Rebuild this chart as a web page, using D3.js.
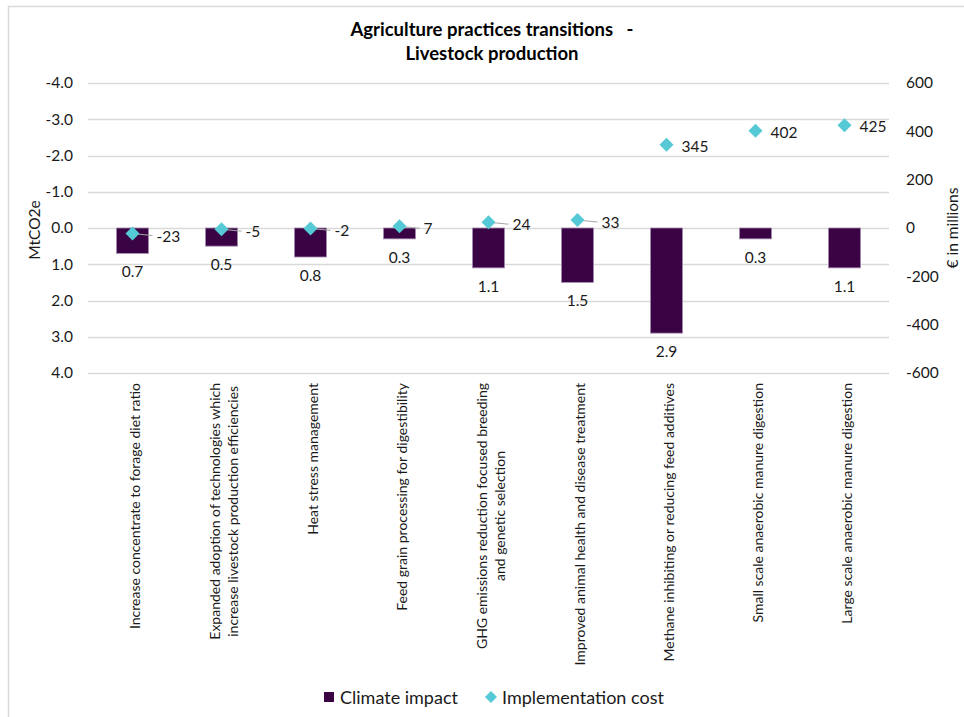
<!DOCTYPE html>
<html>
<head>
<meta charset="utf-8">
<script src="https://cdn.jsdelivr.net/npm/d3@7"></script>
<style>
  html, body { margin: 0; padding: 0; background: #fff; }
  svg { display: block; font-family: Lato, "Open Sans", sans-serif; }
</style>
</head>
<body>
<svg id="chart" width="964" height="717"></svg>
<script>
// ---- data ----
const categories = [
  ["Increase concentrate to forage diet ratio"],
  ["Expanded adoption of technologies which", "increase livestock production efficiencies"],
  ["Heat stress management"],
  ["Feed grain processing for digestibility"],
  ["GHG emissions reduction focused breeding", "and genetic selection"],
  ["Improved animal health and disease treatment"],
  ["Methane inhibiting or reducing feed additives"],
  ["Small scale anaerobic manure digestion"],
  ["Large scale anaerobic manure digestion"]
];
const climateImpact = [0.7, 0.5, 0.8, 0.3, 1.1, 1.5, 2.9, 0.3, 1.1];
const implementationCost = [-23, -5, -2, 7, 24, 33, 345, 402, 425];
const leftTicks = [-4, -3, -2, -1, 0, 1, 2, 3, 4];
const rightTicks = [600, 400, 200, 0, -200, -400, -600];
const titleLines = ["Agriculture practices transitions\u00a0\u00a0\u00a0-", "Livestock production"];
const seriesNames = ["Climate impact", "Implementation cost"];

// ---- layout ----
const svg = d3.select("#chart");
const plot = { left: 88, right: 889, top: 83, bottom: 373 };
const barColor = "#3a0444", diamondColor = "#56c9d6", gridColor = "#d9d9d9", textColor = "#1a1a1a";
const hy = s => s.replace(/\u2212/g, "-");
const f1 = v => hy(d3.format(".1f")(v));
const f0 = v => hy(d3.format("d")(v));

// chart frame
svg.append("rect").attr("x", 8.5).attr("y", 6.5).attr("width", 970).attr("height", 730)
  .attr("fill", "none").attr("stroke", "#d9d9d9").attr("stroke-width", 1.5);

const idx = categories.map((d, i) => i);
const x = d3.scaleBand().domain(idx).range([plot.left, plot.right]);
const yL = d3.scaleLinear().domain([-4, 4]).range([plot.top, plot.bottom]);
const yR = d3.scaleLinear().domain([600, -600]).range([plot.top, plot.bottom]);

// title
svg.append("g").selectAll("text").data(titleLines).join("text")
  .attr("x", 492).attr("y", (d, i) => 36 + i * 24)
  .attr("text-anchor", "middle").attr("font-weight", "bold").attr("font-size", 18.5)
  .attr("fill", "#000").text(d => d);

// gridlines
svg.append("g").selectAll("line").data(leftTicks).join("line")
  .attr("x1", plot.left).attr("x2", plot.right)
  .attr("y1", d => Math.round(yL(d)) + 0.5).attr("y2", d => Math.round(yL(d)) + 0.5)
  .attr("stroke", gridColor).attr("stroke-width", 1.3);

// left axis
const axL = svg.append("g").attr("transform", `translate(${plot.left},0)`)
  .call(d3.axisLeft(yL).tickValues(leftTicks).tickFormat(f1).tickSize(0).tickPadding(15));
axL.select(".domain").remove();
axL.selectAll("text").attr("font-size", 15.5).attr("fill", textColor).attr("font-family", "Lato, sans-serif");

// right axis
const axR = svg.append("g").attr("transform", `translate(${plot.right},0)`)
  .call(d3.axisRight(yR).tickValues(rightTicks).tickFormat(f0).tickSize(0).tickPadding(17));
axR.select(".domain").remove();
axR.selectAll("text").attr("font-size", 15.5).attr("fill", textColor).attr("font-family", "Lato, sans-serif");

// axis titles
svg.append("text").attr("transform", `translate(40,${yL(0) + 2}) rotate(-90)`)
  .attr("text-anchor", "middle").attr("font-size", 15.5).attr("fill", textColor).text("MtCO2e");
svg.append("text").attr("transform", `translate(958,${yL(0)}) rotate(-90)`)
  .attr("text-anchor", "middle").attr("font-size", 15.5).attr("fill", textColor).text("€ in millions");

// bars
const barW = x.bandwidth() * 0.36;
svg.append("g").selectAll("rect").data(climateImpact).join("rect")
  .attr("x", (d, i) => x(i) + (x.bandwidth() - barW) / 2)
  .attr("y", d => Math.min(yL(0), yL(d)))
  .attr("width", barW)
  .attr("height", d => Math.abs(yL(d) - yL(0)))
  .attr("fill", barColor).attr("stroke", "#a58cb0").attr("stroke-width", 0.8);

// bar labels
svg.append("g").selectAll("text").data(climateImpact).join("text")
  .attr("x", (d, i) => x(i) + x.bandwidth() / 2)
  .attr("y", d => yL(d) + 24)
  .attr("text-anchor", "middle").attr("font-size", 15.5).attr("fill", textColor)
  .text(d => f1(d));

// cost points: leader lines + labels
const costG = svg.append("g");
implementationCost.forEach((v, i) => {
  const cx = x(i) + x.bandwidth() / 2, cy = yR(v);
  const small = Math.abs(v) < 100;
  const lx = cx + (small ? 24 : 15);
  const ly = cy + (small ? 2 : 1);
  if (small) {
    costG.append("line").attr("x1", cx).attr("y1", cy).attr("x2", lx - 4).attr("y2", ly)
      .attr("stroke", "#a6a6a6").attr("stroke-width", 1);
  }
  costG.append("text").attr("x", lx).attr("y", ly).attr("dominant-baseline", "central")
    .attr("font-size", 15.5).attr("fill", textColor).text(f0(v));
});
svg.append("g").selectAll("path").data(implementationCost).join("path")
  .attr("transform", (d, i) => `translate(${x(i) + x.bandwidth() / 2},${yR(d)})`)
  .attr("d", "M0,-7L7,0L0,7L-7,0Z")
  .attr("fill", diamondColor);

// category labels (rotated)
const lineH = 18;
categories.forEach((lines, i) => {
  const cx = x(i) + x.bandwidth() / 2 + 2;
  const g = svg.append("g").attr("transform", `translate(${cx},${plot.bottom + 10}) rotate(-90)`);
  const texts = lines.map((ln, j) => g.append("text")
    .attr("y", (j - (lines.length - 1) / 2) * lineH)
    .attr("dominant-baseline", "central")
    .attr("text-anchor", "middle")
    .attr("font-size", 14).attr("fill", textColor).text(ln));
  const maxLen = d3.max(texts, t => t.node().getComputedTextLength());
  texts.forEach(t => t.attr("x", -maxLen / 2));
});

// legend
const lg = svg.append("g");
lg.append("rect").attr("x", 324).attr("y", 692).attr("width", 10).attr("height", 10).attr("fill", barColor);
lg.append("text").attr("x", 340).attr("y", 697).attr("dominant-baseline", "central")
  .attr("font-size", 18).attr("fill", textColor).text(seriesNames[0]);
lg.append("path").attr("transform", "translate(491,697)").attr("d", "M0,-6L6,0L0,6L-6,0Z").attr("fill", diamondColor);
lg.append("text").attr("x", 502).attr("y", 697).attr("dominant-baseline", "central")
  .attr("font-size", 18).attr("fill", textColor).text(seriesNames[1]);
</script>
</body>
</html>
